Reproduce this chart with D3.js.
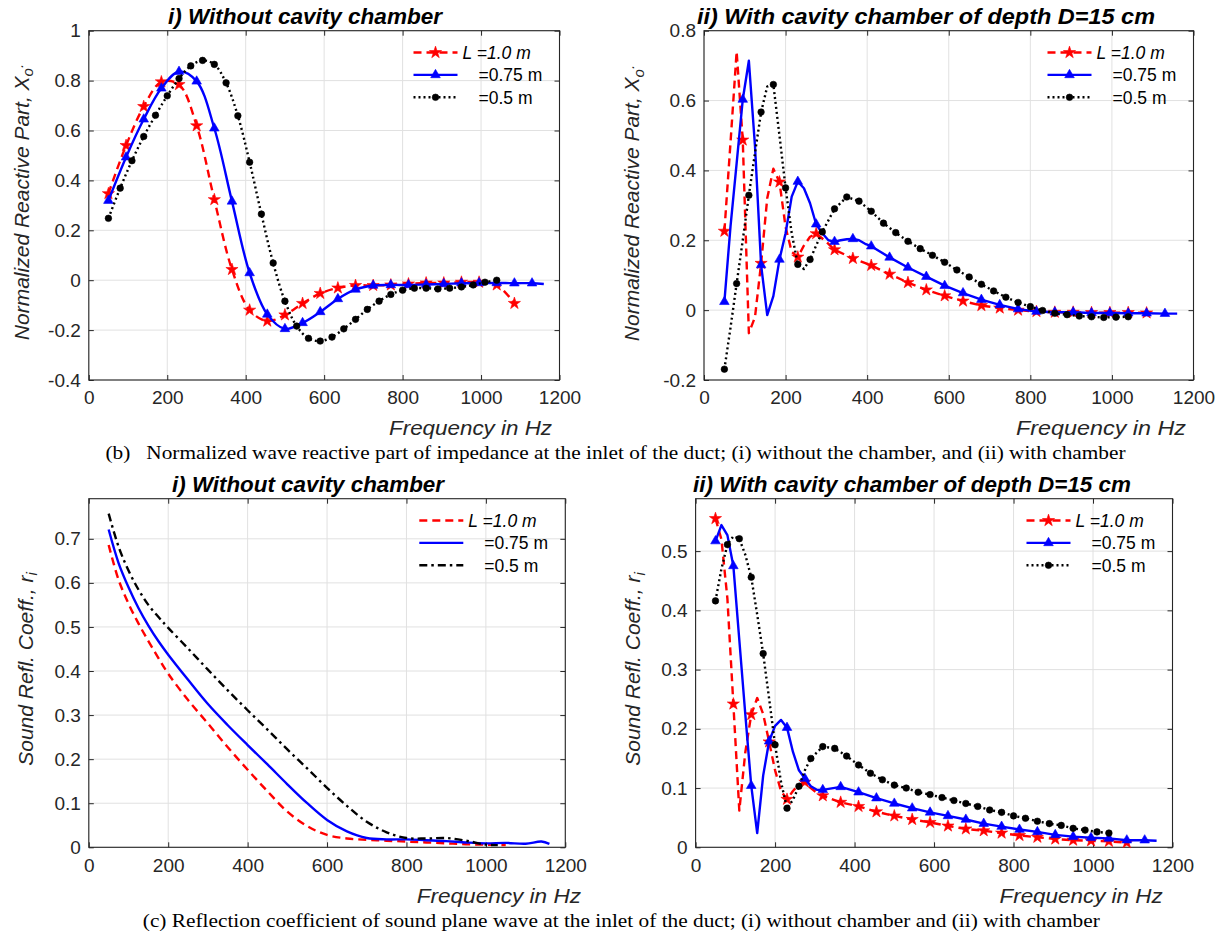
<!DOCTYPE html>
<html><head><meta charset="utf-8">
<script src="https://cdn.jsdelivr.net/npm/d3@7"></script>
<style>
body{margin:0;background:#fff;}
svg text{font-family:"Liberation Sans",Arial,sans-serif;}
</style></head><body>
<svg id="chart" width="1226" height="935"></svg>
<script>
// ---------- tick labels ----------
const freqTicks = [0,200,400,600,800,1000,1200];
const p1Ticks = [-0.4,-0.2,0,0.2,0.4,0.6,0.8,1];
const p2Ticks = [-0.2,0,0.2,0.4,0.6,0.8];
const p3Ticks = [0,0.1,0.2,0.3,0.4,0.5,0.6,0.7];
const p4Ticks = [0,0.1,0.2,0.3,0.4,0.5];
const legendLabels = ["L =1.0 m","=0.75 m","=0.5 m"];
const titles = ["i) Without cavity chamber","ii) With cavity chamber of depth D=15 cm","i) Without cavity chamber","ii) With cavity chamber of depth D=15 cm"];
const xLabel = "Frequency in Hz";
const captionB = "(b)   Normalized wave reactive part of impedance at the inlet of the duct; (i) without the chamber, and (ii) with chamber";
const captionC = "(c) Reflection coefficient of sound plane wave at the inlet of the duct; (i) without chamber and (ii) with chamber";

// ---------- panel (b-i): reactive part, without chamber ----------
const p1F_L100 = [50,95,140,185,230,275,320,365,410,455,500,545,590,635,680,725,770,815,860,905,950,995,1040,1085];
const p1X_L100 = [0.347,0.540,0.696,0.795,0.784,0.619,0.323,0.043,-0.120,-0.164,-0.139,-0.093,-0.053,-0.031,-0.021,-0.021,-0.019,-0.015,-0.011,-0.011,-0.008,-0.008,-0.019,-0.093];
const p1F_L075 = [50,95,140,185,230,275,320,365,410,455,500,545,590,635,680,725,770,815,860,905,950,995,1040,1085,1130,1160];
const p1X_L075 = [0.319,0.493,0.645,0.769,0.836,0.797,0.609,0.316,0.029,-0.137,-0.195,-0.171,-0.127,-0.075,-0.037,-0.021,-0.019,-0.019,-0.017,-0.015,-0.012,-0.011,-0.011,-0.012,-0.012,-0.015];
const p1F_L050 = [50,80,110,140,170,200,230,260,290,320,350,380,410,440,470,500,530,560,590,620,650,680,710,740,770,800,830,860,890,920,950,980,1010,1040];
const p1X_L050 = [0.248,0.369,0.479,0.576,0.661,0.739,0.808,0.859,0.881,0.865,0.791,0.659,0.473,0.265,0.069,-0.084,-0.184,-0.233,-0.244,-0.228,-0.195,-0.157,-0.117,-0.084,-0.057,-0.040,-0.032,-0.032,-0.035,-0.032,-0.027,-0.019,-0.008,0.000];

// ---------- panel (b-ii): reactive part, with chamber ----------
const p2F_L100 = [50,65,80,95,110,125,140,155,170,185,200,215,230,245,260,275,290,305,320,365,410,455,500,545,590,635,680,725,770,815,860,905,950,995,1040,1085];
const p2X_L100 = [0.226,0.48,0.74,0.487,-0.066,-0.02,0.134,0.32,0.405,0.367,0.238,0.167,0.152,0.185,0.21,0.219,0.205,0.19,0.173,0.148,0.128,0.103,0.079,0.058,0.041,0.026,0.013,0.006,0.0,-0.004,-0.006,-0.006,-0.007,-0.007,-0.007,-0.008];
const p2F_L075 = [50,65,80,95,110,125,140,155,170,185,200,215,230,245,260,275,290,305,320,335,350,365,380,395,410,455,500,545,590,635,680,725,770,815,860,905,950,995,1040,1085,1130,1160];
const p2X_L075 = [0.024,0.24,0.42,0.603,0.714,0.47,0.129,-0.014,0.04,0.145,0.22,0.325,0.368,0.349,0.306,0.246,0.22,0.2,0.196,0.2,0.203,0.204,0.2,0.19,0.183,0.151,0.122,0.096,0.07,0.049,0.03,0.015,0.003,-0.004,-0.006,-0.006,-0.008,-0.008,-0.009,-0.009,-0.01,-0.01];
const p2F_L050 = [50,65,80,95,110,125,140,155,170,185,200,215,230,245,260,275,290,320,350,380,410,440,470,500,530,560,590,620,650,680,710,740,770,800,830,860,890,920,950,980,1010,1040];
const p2X_L050 = [-0.169,-0.05,0.076,0.2,0.329,0.45,0.567,0.64,0.646,0.5,0.35,0.22,0.131,0.118,0.145,0.185,0.224,0.29,0.324,0.312,0.283,0.249,0.222,0.197,0.176,0.157,0.137,0.115,0.095,0.074,0.055,0.037,0.022,0.01,-0.001,-0.009,-0.013,-0.017,-0.019,-0.021,-0.02,-0.019];

// ---------- panel (c-i): reflection coefficient, without chamber ----------
const p3F_L100 = [50,75,100,125,150,175,200,250,300,350,400,450,500,550,600,650,700,750,800,850,900,950,1000,1050];
const p3R_L100 = [0.686,0.607,0.553,0.508,0.468,0.43,0.394,0.334,0.281,0.227,0.176,0.127,0.081,0.048,0.028,0.02,0.017,0.015,0.013,0.011,0.009,0.007,0.006,0.005];
const p3F_L075 = [50,75,100,125,150,175,200,250,300,350,400,450,500,550,600,650,700,750,800,850,900,950,1000,1050,1100,1140,1160];
const p3R_L075 = [0.721,0.645,0.59,0.543,0.503,0.468,0.437,0.38,0.325,0.277,0.232,0.188,0.143,0.1,0.062,0.036,0.021,0.018,0.018,0.016,0.014,0.011,0.009,0.01,0.008,0.013,0.008];
const p3F_L050 = [50,75,100,125,150,175,200,250,300,350,400,450,500,550,600,650,700,750,800,850,900,950,1000,1030];
const p3R_L050 = [0.757,0.682,0.628,0.585,0.55,0.523,0.498,0.451,0.403,0.356,0.311,0.267,0.222,0.179,0.135,0.094,0.058,0.034,0.021,0.02,0.021,0.015,0.006,0.005];

// ---------- panel (c-ii): reflection coefficient, with chamber ----------
const p4F_L100 = [50,65,80,95,110,125,140,155,170,185,200,215,230,245,260,275,290,305,320,365,410,455,500,545,590,635,680,725,770,815,860,905,950,995,1040,1085];
const p4R_L100 = [0.555,0.52,0.42,0.242,0.062,0.16,0.224,0.252,0.225,0.178,0.13,0.095,0.081,0.095,0.106,0.11,0.1,0.092,0.087,0.076,0.069,0.06,0.053,0.047,0.042,0.036,0.031,0.028,0.024,0.02,0.017,0.014,0.012,0.011,0.01,0.008];
const p4F_L075 = [50,65,80,95,110,125,140,155,170,185,200,215,230,245,260,275,290,305,320,365,410,455,500,545,590,635,680,725,770,815,860,905,950,995,1040,1085,1130,1160];
const p4R_L075 = [0.517,0.544,0.527,0.475,0.35,0.225,0.104,0.024,0.121,0.179,0.205,0.215,0.202,0.161,0.13,0.116,0.103,0.097,0.097,0.102,0.093,0.083,0.074,0.066,0.059,0.053,0.047,0.04,0.035,0.03,0.026,0.021,0.018,0.016,0.015,0.012,0.012,0.011];
const p4F_L050 = [50,65,80,95,110,125,140,155,170,185,200,215,230,245,260,275,290,320,350,380,410,440,470,500,530,560,590,620,650,680,710,740,770,800,830,860,890,920,950,980,1010,1040];
const p4R_L050 = [0.416,0.47,0.511,0.525,0.521,0.494,0.456,0.393,0.327,0.251,0.173,0.11,0.066,0.08,0.103,0.13,0.15,0.17,0.167,0.154,0.139,0.125,0.114,0.105,0.1,0.093,0.089,0.084,0.079,0.074,0.069,0.063,0.059,0.053,0.049,0.044,0.04,0.037,0.032,0.029,0.026,0.024];

// ---------- drawing ----------
const svg = d3.select("#chart");
const RED="#ff0000", BLUE="#0000ff", BLK="#000000", AX="#262626";
const zip = (f,v) => f.map((d,i)=>({f:d,v:v[i]}));

const styleRed  = {color:RED, dash:"8,5", marker:"star", step:45, width:2.4};
const styleBlue = {color:BLUE, dash:null, marker:"tri", step:45, width:2.4};
const styleBlk  = {color:BLK, dash:"2,3", marker:"dot", step:30, width:2.4};

const panels = [
  {box:[88.8,559.5,30.7,380], ydom:[-0.4,1], yt:p1Ticks, title:titles[0], ylab:"X", curve:d3.curveCatmullRom,
   xl:[389,552,427], yl:[21,202], titleXY:[305,16], titleW:274,
   series:[[p1F_L100,p1X_L100,styleRed],[p1F_L075,p1X_L075,styleBlue],[p1F_L050,p1X_L050,styleBlk]]},
  {box:[704,1193.5,30.7,380], ydom:[-0.2,0.8], yt:p2Ticks, title:titles[1], ylab:"X", curve:d3.curveLinear,
   xl:[1016,1186,427], yl:[631.5,203], titleXY:[926,16], titleW:458,
   series:[[p2F_L100,p2X_L100,styleRed],[p2F_L075,p2X_L075,styleBlue],[p2F_L050,p2X_L050,styleBlk]]},
  {box:[88.8,565.3,498.7,847.3], ydom:[0,0.791], yt:p3Ticks, title:titles[2], ylab:"r", curve:d3.curveCatmullRom,
   xl:[416.7,581,895], yl:[25.4,669], titleXY:[308,484], titleW:272,
   series:[[p3F_L100,p3R_L100,{color:RED,dash:"8,5",marker:null,width:2.4}],
           [p3F_L075,p3R_L075,{color:BLUE,dash:null,marker:null,width:2.4}],
           [p3F_L050,p3R_L050,{color:BLK,dash:"8,4,2.5,4",marker:null,width:2.4}]]},
  {box:[695.6,1172.5,498.7,847.3], ydom:[0,0.5885], yt:p4Ticks, title:titles[3], ylab:"r", curve:d3.curveLinear,
   xl:[999.5,1162.7,895], yl:[632.6,669], titleXY:[912,484], titleW:438,
   series:[[p4F_L100,p4R_L100,styleRed],[p4F_L075,p4R_L075,styleBlue],[p4F_L050,p4R_L050,styleBlk]]}
];

function markerPath(type){
  if(type==="star") return d3.symbol(d3.symbolStar,46)();
  if(type==="tri") return d3.symbol(d3.symbolTriangle,40)();
  return d3.symbol(d3.symbolCircle,34)();
}

panels.forEach((p,pi)=>{
  const [L,R,T,B] = p.box;
  const x = d3.scaleLinear().domain([0,1200]).range([L,R]);
  const y = d3.scaleLinear().domain(p.ydom).range([B,T]);
  const g = svg.append("g");
  // grid
  g.append("g").selectAll("line").data(freqTicks).join("line")
    .attr("x1",d=>x(d)).attr("x2",d=>x(d)).attr("y1",T).attr("y2",B)
    .attr("stroke","#e1e1e1").attr("stroke-width",1);
  g.append("g").selectAll("line").data(p.yt).join("line")
    .attr("y1",d=>y(d)).attr("y2",d=>y(d)).attr("x1",L).attr("x2",R)
    .attr("stroke","#e1e1e1").attr("stroke-width",1);
  // axes
  const fmt = d=>String(d);
  const axB = g.append("g").attr("transform",`translate(0,${B})`)
    .call(d3.axisBottom(x).tickValues(freqTicks).tickFormat(fmt).tickSizeInner(-5).tickSizeOuter(0).tickPadding(11));
  const axT = g.append("g").attr("transform",`translate(0,${T})`)
    .call(d3.axisTop(x).tickValues(freqTicks).tickFormat("").tickSizeInner(-5).tickSizeOuter(0));
  const axL = g.append("g").attr("transform",`translate(${L},0)`)
    .call(d3.axisLeft(y).tickValues(p.yt).tickFormat(fmt).tickSizeInner(-5).tickSizeOuter(0).tickPadding(8));
  const axR = g.append("g").attr("transform",`translate(${R},0)`)
    .call(d3.axisRight(y).tickValues(p.yt).tickFormat("").tickSizeInner(-5).tickSizeOuter(0));
  [axB,axT,axL,axR].forEach(a=>{
    a.select(".domain").remove();
    a.selectAll(".tick line").attr("stroke",AX);
    a.selectAll(".tick text").attr("fill",AX).style("font-size","19px").style("font-family","'Liberation Sans',Arial,sans-serif");
  });
  g.append("rect").attr("x",L).attr("y",T).attr("width",R-L).attr("height",B-T)
    .attr("fill","none").attr("stroke",AX).attr("stroke-width",1.1);

  // series
  const line = d3.line().x(d=>x(d.f)).y(d=>y(d.v)).curve(p.curve);
  p.series.forEach(([f,v,st])=>{
    const data = zip(f,v);
    g.append("path").datum(data).attr("d",line).attr("fill","none")
      .attr("stroke",st.color).attr("stroke-width",st.width)
      .attr("stroke-dasharray",st.dash).attr("stroke-linejoin","round");
    if(st.marker){
      g.append("g").selectAll("path").data(data.filter(d=>(d.f-50)%st.step===0)).join("path")
        .attr("d",markerPath(st.marker))
        .attr("transform",d=>`translate(${x(d.f)},${y(d.v)})`)
        .attr("fill",st.color).attr("stroke",st.color).attr("stroke-width",0.6);
    }
  });

  // legend
  const rowsY = [T+21.8, T+44.2, T+66.6];
  p.series.forEach(([f,v,st],i)=>{
    const yy = rowsY[i];
    g.append("line").attr("x1",R-146).attr("x2",R-102).attr("y1",yy).attr("y2",yy)
      .attr("stroke",st.color).attr("stroke-width",st.width).attr("stroke-dasharray",st.dash);
    if(st.marker){
      g.append("path").attr("d",markerPath(st.marker)).attr("transform",`translate(${R-124},${yy})`)
        .attr("fill",st.color).attr("stroke",st.color).attr("stroke-width",0.6);
    }
    g.append("text").attr("x", i===0 ? R-97 : R-81).attr("y",yy).attr("dy","0.36em")
      .style("font-size","17.5px").style("font-style", i===0?"italic":"normal")
      .attr("fill","#000").text(legendLabels[i]);
  });

  // title
  g.append("text").attr("x",p.titleXY[0]).attr("y",p.titleXY[1]).attr("dy","0.36em")
    .attr("text-anchor","middle").attr("textLength",p.titleW).attr("lengthAdjust","spacingAndGlyphs")
    .style("font-size","21.5px").style("font-weight","bold").style("font-style","italic")
    .attr("fill","#000").text(p.title);
  // x label
  g.append("text").attr("x",p.xl[0]).attr("y",p.xl[2]).attr("dy","0.36em")
    .attr("textLength",p.xl[1]-p.xl[0]).attr("lengthAdjust","spacingAndGlyphs")
    .style("font-size","21px").style("font-style","italic").attr("fill",AX).text(xLabel);
  // y label
  const yt = g.append("text").attr("transform",`translate(${p.yl[0]+7.5},${p.yl[1]}) rotate(-90)`)
    .attr("text-anchor","middle").style("font-size","21px").style("font-style","italic").attr("fill",AX);
  if(p.ylab==="X"){
    yt.append("tspan").text("Normalized Reactive Part, X");
    yt.append("tspan").attr("dy","4.5").style("font-size","15px").text("o");
    yt.append("tspan").attr("dy","-10").style("font-size","15px").text(".");
  } else {
    yt.append("tspan").text("Sound Refl. Coeff., r");
    yt.append("tspan").attr("dy","0.3em").style("font-size","15px").text("i");
  }
});

// captions
svg.append("text").attr("x",105.5).attr("y",453).attr("dy","0.32em")
  .attr("textLength",1020).attr("lengthAdjust","spacingAndGlyphs")
  .style("font-family","'Liberation Serif','Times New Roman',serif").style("font-size","19px")
  .style("white-space","pre").attr("fill","#000").text(captionB);
svg.append("text").attr("x",142.8).attr("y",921).attr("dy","0.32em")
  .attr("textLength",957).attr("lengthAdjust","spacingAndGlyphs")
  .style("font-family","'Liberation Serif','Times New Roman',serif").style("font-size","19px")
  .attr("fill","#000").text(captionC);
</script>
</body></html>
